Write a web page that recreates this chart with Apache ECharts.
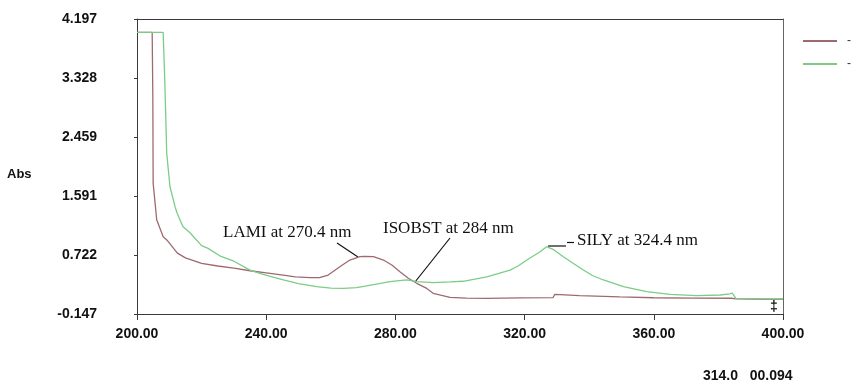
<!DOCTYPE html>
<html>
<head>
<meta charset="utf-8">
<script src="https://cdn.jsdelivr.net/npm/echarts@6/dist/echarts.min.js"></script>
<style>
html,body{margin:0;padding:0;background:#fff;}
#chart{width:861px;height:391px;}
</style>
</head>
<body>
<div id="chart"></div>
<script>
// ---- data ----
const lamiNm  = [200, 204.7, 204.9, 205.0, 206.1, 208.1, 209.3, 212.5, 215, 220, 225, 230, 235, 240, 245.3, 249, 253.6, 256.5, 259.2, 262.8, 265.9, 269.0, 270.4, 273.2, 276.3, 279, 281.4, 284, 286.6, 289.7, 291.7, 294, 296.9, 302, 308.3, 318.6, 328.8, 329.3, 331, 337, 349.5, 360, 372, 384, 385.5, 392, 400];
const lamiAbs = [4.00, 4.00, 3.05, 1.78, 1.24, 0.99, 0.94, 0.75, 0.68, 0.60, 0.56, 0.53, 0.49, 0.46, 0.427, 0.40, 0.388, 0.39, 0.427, 0.55, 0.648, 0.697, 0.70, 0.697, 0.648, 0.57, 0.476, 0.38, 0.305, 0.23, 0.158, 0.13, 0.099, 0.088, 0.084, 0.09, 0.093, 0.14, 0.138, 0.123, 0.105, 0.092, 0.088, 0.085, 0.075, 0.073, 0.07];

const silyNm  = [200, 208.1, 208.6, 209.2, 210.2, 211.8, 212.4, 214.2, 216.4, 220, 222, 226, 230, 235, 238, 241, 245.3, 250, 255.6, 260, 263.9, 268, 271.1, 275, 278.3, 283.5, 286.6, 291.7, 296.9, 301, 305, 308.3, 312, 315.5, 318, 320.7, 324.8, 326.8, 329, 332, 335, 338.2, 341, 344.4, 350.6, 357.8, 365, 373.3, 380.5, 383.5, 384.3, 385.4, 392, 400];
const silyAbs = [4.00, 4.00, 3.30, 2.22, 1.73, 1.43, 1.34, 1.14, 1.05, 0.86, 0.82, 0.70, 0.63, 0.50, 0.45, 0.41, 0.354, 0.30, 0.255, 0.235, 0.23, 0.24, 0.266, 0.30, 0.329, 0.354, 0.329, 0.314, 0.325, 0.335, 0.37, 0.40, 0.45, 0.50, 0.56, 0.648, 0.77, 0.844, 0.80, 0.697, 0.60, 0.50, 0.42, 0.354, 0.255, 0.182, 0.143, 0.123, 0.133, 0.15, 0.16, 0.084, 0.078, 0.074];

const seriesNames = ['LAMI', 'SILY'];
const xTicks = [200, 240, 280, 320, 360, 400];
const yTicks = [-0.147, 0.722, 1.591, 2.459, 3.328, 4.197];
const annotations = ['LAMI at 270.4 nm', 'ISOBST at 284 nm', 'SILY at 324.4 nm'];
const footerText = '314.0   00.094';

const zip = (xs, ys) => xs.map((x, i) => [x, ys[i]]);

const chart = echarts.init(document.getElementById('chart'));
const axisColor = '#3a3a3a';
const labelFont = {color: '#111', fontFamily: 'Liberation Sans, Arial, sans-serif', fontWeight: 'bold', fontSize: 14};
const serifFont = 'Liberation Serif, Times New Roman, serif';

chart.setOption({
  animation: false,
  backgroundColor: '#fff',
  grid: {left: 137, right: 78, top: 19, bottom: 77, containLabel: false},
  legend: {
    orient: 'vertical', left: 803, top: 34, padding: 0,
    icon: 'rect', itemWidth: 34, itemHeight: 2, itemGap: 9,
    data: seriesNames,
    formatter: () => '-',
    textStyle: {color: '#333', fontSize: 12, lineHeight: 14, padding: [0, 0, 0, 5], fontFamily: 'Liberation Sans, Arial, sans-serif'}
  },
  xAxis: [{
    type: 'value', min: xTicks[0], max: xTicks[xTicks.length - 1], interval: 40,
    axisLine: {show: true, onZero: false, lineStyle: {color: axisColor, width: 1}},
    axisTick: {show: true, length: 6, lineStyle: {color: axisColor}},
    axisLabel: Object.assign({margin: 13, formatter: v => v.toFixed(2)}, labelFont),
    splitLine: {show: false}
  }, {
    type: 'value', position: 'top', min: xTicks[0], max: xTicks[xTicks.length - 1],
    axisLine: {show: true, onZero: false, lineStyle: {color: axisColor, width: 1}},
    axisTick: {show: false}, axisLabel: {show: false}, splitLine: {show: false}
  }],
  yAxis: [{
    type: 'value', min: yTicks[0], max: yTicks[yTicks.length - 1],
    axisLine: {show: true, onZero: false, lineStyle: {color: axisColor, width: 1}},
    axisTick: {show: true, length: 3, customValues: yTicks, lineStyle: {color: axisColor}},
    axisLabel: Object.assign({margin: 40, customValues: yTicks, formatter: v => v.toFixed(3)}, labelFont),
    splitLine: {show: false}
  }, {
    type: 'value', position: 'right', min: yTicks[0], max: yTicks[yTicks.length - 1],
    axisLine: {show: true, onZero: false, lineStyle: {color: '#666', width: 1}},
    axisTick: {show: false}, axisLabel: {show: false}, splitLine: {show: false}
  }],
  series: [{
    name: seriesNames[0], type: 'line', showSymbol: false, symbol: 'none',
    data: zip(lamiNm, lamiAbs), color: '#9e6a70',
    lineStyle: {width: 1.3, color: '#9e6a70'}
  }, {
    name: seriesNames[1], type: 'line', showSymbol: false, symbol: 'none',
    data: zip(silyNm, silyAbs), color: '#7ccc86',
    lineStyle: {width: 1.3, color: '#7ccc86'}
  }],
  graphic: [
    {type: 'text', left: 7, top: 168, style: {text: 'Abs', fill: '#111', font: 'bold 13px Liberation Sans, Arial, sans-serif'}},
    {type: 'text', left: 223, top: 224, style: {text: annotations[0], fill: '#111', font: '17px ' + serifFont}},
    {type: 'text', left: 383, top: 220, style: {text: annotations[1], fill: '#111', font: '17px ' + serifFont}},
    {type: 'text', left: 577, top: 232, style: {text: annotations[2], fill: '#111', font: '17px ' + serifFont}},
    {type: 'line', shape: {x1: 337, y1: 243, x2: 358, y2: 257}, style: {stroke: '#111', lineWidth: 1.2}},
    {type: 'line', shape: {x1: 450, y1: 238, x2: 415, y2: 282}, style: {stroke: '#111', lineWidth: 1.2}},
    {type: 'line', shape: {x1: 548, y1: 246, x2: 566, y2: 246}, style: {stroke: '#111', lineWidth: 1.2}},
    {type: 'line', shape: {x1: 567, y1: 242.5, x2: 574, y2: 242.5}, style: {stroke: '#111', lineWidth: 1.2}},
    {type: 'text', left: 770, top: 300, style: {text: '‡', fill: '#111', font: 'bold 14px Liberation Sans, Arial, sans-serif'}},
    {type: 'text', left: 703, top: 369, style: {text: footerText, fill: '#111', font: 'bold 14px Liberation Sans, Arial, sans-serif'}}
  ]
});
</script>
</body>
</html>
